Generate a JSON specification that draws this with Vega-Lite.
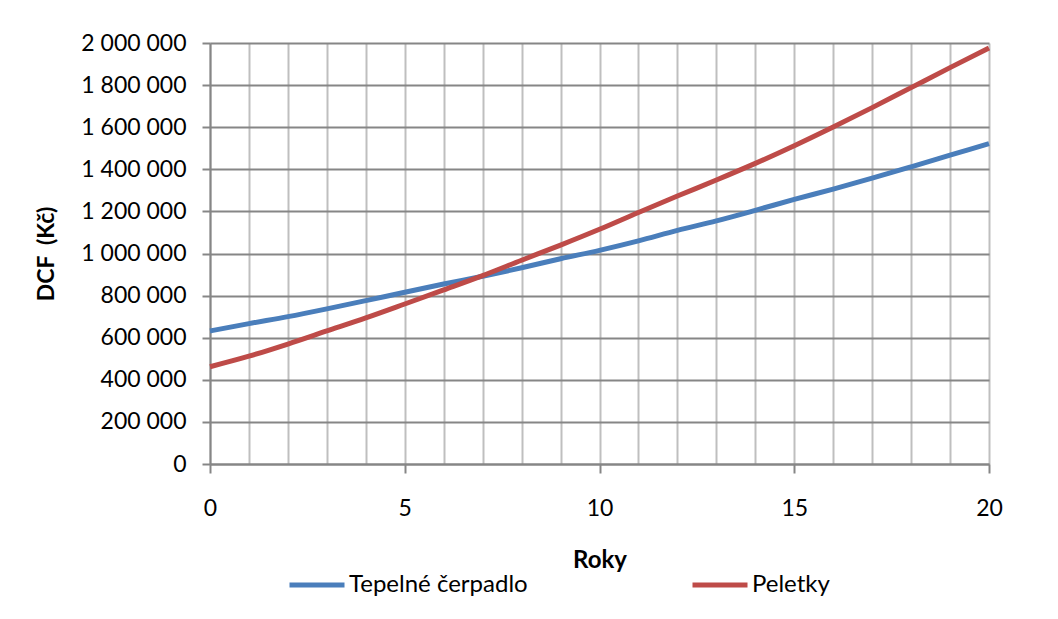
{
  "$schema": "https://vega.github.io/schema/vega-lite/v6.json",
  "width": 779,
  "height": 421,
  "autosize": "none",
  "padding": {"left": 210, "top": 43, "right": 69, "bottom": 155},
  "background": "white",
  "config": {
    "locale": {"number": {"decimal": ",", "thousands": " ", "grouping": [3], "currency": ["", " Kč"]}},
    "font": "Lato",
    "view": {"stroke": null}
  },
  "data": {
    "values": [
      {"rok": 0, "system": "Tepelné čerpadlo", "dcf": 632000},
      {"rok": 1, "system": "Tepelné čerpadlo", "dcf": 667000},
      {"rok": 2, "system": "Tepelné čerpadlo", "dcf": 700000},
      {"rok": 3, "system": "Tepelné čerpadlo", "dcf": 737000},
      {"rok": 4, "system": "Tepelné čerpadlo", "dcf": 776000},
      {"rok": 5, "system": "Tepelné čerpadlo", "dcf": 816000},
      {"rok": 6, "system": "Tepelné čerpadlo", "dcf": 855000},
      {"rok": 7, "system": "Tepelné čerpadlo", "dcf": 892000},
      {"rok": 8, "system": "Tepelné čerpadlo", "dcf": 932000},
      {"rok": 9, "system": "Tepelné čerpadlo", "dcf": 975000},
      {"rok": 10, "system": "Tepelné čerpadlo", "dcf": 1015000},
      {"rok": 11, "system": "Tepelné čerpadlo", "dcf": 1060000},
      {"rok": 12, "system": "Tepelné čerpadlo", "dcf": 1110000},
      {"rok": 13, "system": "Tepelné čerpadlo", "dcf": 1155000},
      {"rok": 14, "system": "Tepelné čerpadlo", "dcf": 1205000},
      {"rok": 15, "system": "Tepelné čerpadlo", "dcf": 1257000},
      {"rok": 16, "system": "Tepelné čerpadlo", "dcf": 1306000},
      {"rok": 17, "system": "Tepelné čerpadlo", "dcf": 1358000},
      {"rok": 18, "system": "Tepelné čerpadlo", "dcf": 1412000},
      {"rok": 19, "system": "Tepelné čerpadlo", "dcf": 1467000},
      {"rok": 20, "system": "Tepelné čerpadlo", "dcf": 1522000},
      {"rok": 0, "system": "Peletky", "dcf": 462000},
      {"rok": 1, "system": "Peletky", "dcf": 512000},
      {"rok": 2, "system": "Peletky", "dcf": 570000},
      {"rok": 3, "system": "Peletky", "dcf": 632000},
      {"rok": 4, "system": "Peletky", "dcf": 694000},
      {"rok": 5, "system": "Peletky", "dcf": 760000},
      {"rok": 6, "system": "Peletky", "dcf": 827000},
      {"rok": 7, "system": "Peletky", "dcf": 895000},
      {"rok": 8, "system": "Peletky", "dcf": 968000},
      {"rok": 9, "system": "Peletky", "dcf": 1040000},
      {"rok": 10, "system": "Peletky", "dcf": 1115000},
      {"rok": 11, "system": "Peletky", "dcf": 1195000},
      {"rok": 12, "system": "Peletky", "dcf": 1273000},
      {"rok": 13, "system": "Peletky", "dcf": 1349000},
      {"rok": 14, "system": "Peletky", "dcf": 1428000},
      {"rok": 15, "system": "Peletky", "dcf": 1512000},
      {"rok": 16, "system": "Peletky", "dcf": 1601000},
      {"rok": 17, "system": "Peletky", "dcf": 1693000},
      {"rok": 18, "system": "Peletky", "dcf": 1788000},
      {"rok": 19, "system": "Peletky", "dcf": 1883000},
      {"rok": 20, "system": "Peletky", "dcf": 1976000}
    ]
  },
  "mark": {"type": "line", "strokeWidth": 5, "strokeCap": "butt", "interpolate": "monotone"},
  "encoding": {
    "x": {
      "field": "rok",
      "type": "quantitative",
      "scale": {"domain": [0, 20], "nice": false},
      "axis": {
        "title": "Roky",
        "titleFontSize": 24,
        "titleFontWeight": "bold",
        "titleColor": "black",
        "titlePadding": 28,
        "values": [0, 1, 2, 3, 4, 5, 6, 7, 8, 9, 10, 11, 12, 13, 14, 15, 16, 17, 18, 19, 20],
        "labelExpr": "datum.value % 5 === 0 ? datum.label : ''",
        "labelFontSize": 23,
        "labelColor": "black",
        "labelPadding": 24,
        "labelFlush": false,
        "tickSize": 9,
        "tickWidth": 2,
        "tickColor": "#868686",
        "tickOpacity": {"condition": {"test": "datum.value % 5 === 0", "value": 1}, "value": 0},
        "domainColor": "#868686",
        "domainWidth": 2,
        "grid": true,
        "gridColor": "#BFBFBF",
        "gridWidth": 2,
        "gridOpacity": 1
      }
    },
    "y": {
      "field": "dcf",
      "type": "quantitative",
      "scale": {"domain": [0, 2000000], "nice": false},
      "axis": {
        "title": "DCF\u00a0\u00a0(Kč)",
        "titleFontSize": 23,
        "titleFontWeight": "bold",
        "titleColor": "black",
        "titlePadding": 22,
        "values": [0, 200000, 400000, 600000, 800000, 1000000, 1200000, 1400000, 1600000, 1800000, 2000000],
        "format": ",d",
        "labelFontSize": 23,
        "labelColor": "black",
        "labelPadding": 16,
        "labelFlush": false,
        "tickSize": 8,
        "tickWidth": 2,
        "tickColor": "#868686",
        "domainColor": "#868686",
        "domainWidth": 2,
        "grid": true,
        "gridColor": "#868686",
        "gridWidth": 2,
        "gridOpacity": 1
      }
    },
    "color": {
      "field": "system",
      "type": "nominal",
      "scale": {"domain": ["Tepelné čerpadlo", "Peletky"], "range": ["#4A7EBB", "#BE4B48"]},
      "legend": {
        "title": null,
        "orient": "none",
        "direction": "horizontal",
        "legendX": 77,
        "legendY": 512,
        "symbolType": "stroke",
        "symbolSize": 3025,
        "symbolStrokeWidth": 5,
        "labelFontSize": 24,
        "labelColor": "black",
        "labelOffset": 2,
        "columnPadding": 154,
        "labelLimit": 400
      }
    }
  }
}
